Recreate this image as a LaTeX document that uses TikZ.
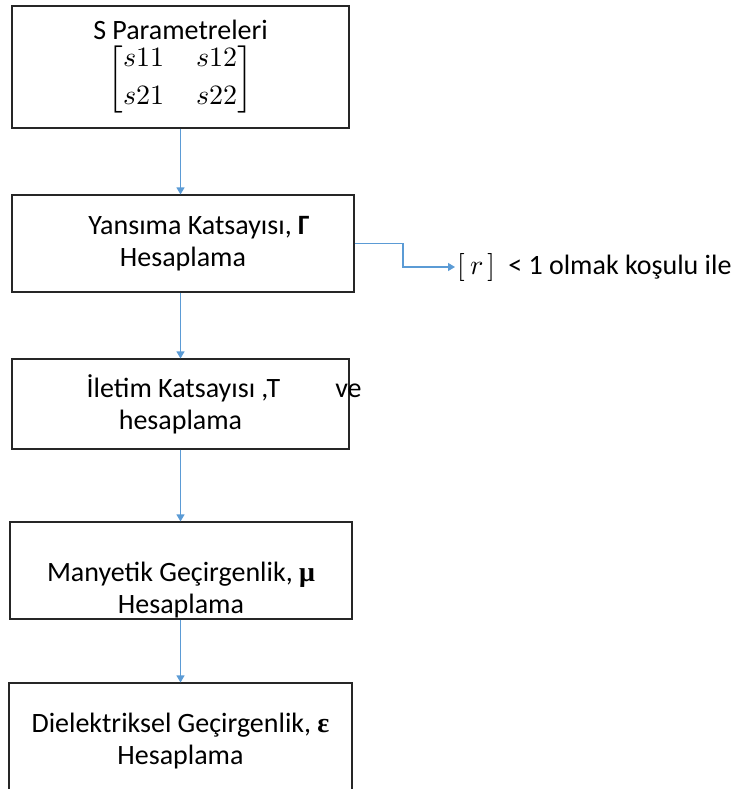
\documentclass[tikz,border=0pt]{standalone}
\usepackage{amsmath}
\usepackage{fontspec}
\usepackage{unicode-math}
\setmainfont{Carlito}
\setmathfont{Latin Modern Math}
\newfontfamily\grfont{Liberation Serif}
\usetikzlibrary{arrows.meta}
\definecolor{okmavi}{RGB}{91,155,213}

\begin{document}
\begin{tikzpicture}[x=1pt,y=-1pt,-{Triangle[width=8pt,length=7pt]},
                    line width=1.1pt]
  \tikzstyle{kutu}=[draw=black!85,fill=white,align=center,inner sep=0pt,
                    font=\fontsize{28}{32}\selectfont]
  \tikzstyle{ok}=[color=okmavi]

  \useasboundingbox (0,0) rectangle (742,789);
  \clip (0,0) rectangle (742,789);

  \node[kutu,minimum width=337pt,minimum height=122pt] (A) at (180.5,67)
       {S Parametreleri\\[4pt]
        {\setlength{\arraycolsep}{16pt}%
         $\begin{bmatrix} s11 & s12\\[6pt] s21 & s22\end{bmatrix}$}};
  \node[kutu,minimum width=342pt,minimum height=97pt]  (B) at (183,243.5)
       {\hspace*{32pt}Yansıma Katsayısı, \textbf{Γ}\\Hesaplama};
  \node[kutu,minimum width=337pt,minimum height=90pt]  (C) at (180.5,404)
       {\hspace*{61pt}İletim Katsayısı ,T\hspace{55pt}\rlap{ve}\\hesaplama};
  \node[kutu,minimum width=342pt,minimum height=97pt]  (D) at (181,570.5)
       {\rule{0pt}{58pt}Manyetik Geçirgenlik, {\grfont\bfseries μ}\\Hesaplama};
  \node[kutu,minimum width=343pt,minimum height=116pt] (E) at (180.5,741)
       {Dielektriksel Geçirgenlik, {\grfont\bfseries ε}\\Hesaplama};
  \node[anchor=west,inner sep=2pt,font=\fontsize{28}{32}\selectfont] (F) at (455,267)
       {$[\,r\,]$\ \ < 1 olmak koşulu ile};
  \coordinate (k) at (403,243.5);

  \path[ok] (A) edge (A |- B.north)
            (B.south -| C) edge (C)
            (C) edge (C |- D.north)
            (D.south -| E) edge (E);
  \draw[ok] (B.east) -- (k) |- (F.west);
\end{tikzpicture}
\end{document}
